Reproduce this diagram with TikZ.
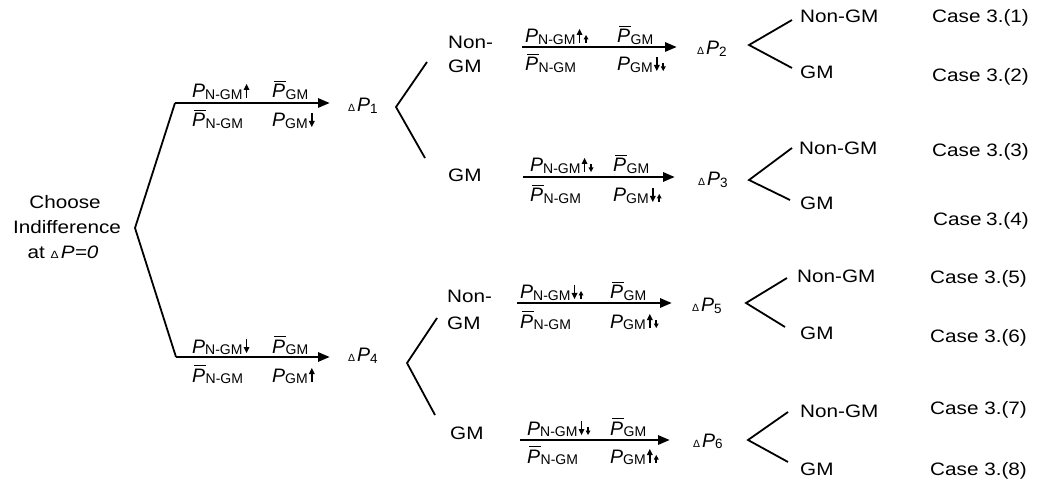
\documentclass[tikz,border=0pt]{standalone}
\usepackage{fontspec}
\setmainfont{Liberation Sans}
\usetikzlibrary{arrows.meta}
\newcommand\bigP{{\fontsize{19.5}{19.5}\selectfont\itshape P}}
\newcommand\subtx[1]{\raisebox{-1.5pt}{\fontsize{14}{14}\selectfont\upshape #1}}
\newcommand\Pn[1]{\bigP\subtx{#1}}
\newcommand\Pb[1]{\vbox{\offinterlineskip\hbox{\kern2pt\vrule height 1.3pt depth 0pt width 11.5pt}\kern2.3pt\hbox{\bigP}}\subtx{#1}}
% inline arrows: #1 total height, #2 head width, #3 head length
\newcommand\uparr[3]{\kern1pt\tikz[baseline=0pt,x=1pt,y=1pt]{\fill (-0.8,0) rectangle (0.8,#1-#3+0.5); \fill (-#2/2,#1-#3) -- (#2/2,#1-#3) -- (0,#1) -- cycle;}}
\newcommand\dnarr[3]{\kern1pt\tikz[baseline=0pt,x=1pt,y=1pt]{\fill (-0.8,#3-0.5) rectangle (0.8,#1); \fill (-#2/2,#3) -- (#2/2,#3) -- (0,0) -- cycle;}}
\newcommand\bgup{\uparr{14}{6}{6}}
\newcommand\bgdn{\dnarr{14}{6}{6}}
\newcommand\smup{\uparr{8}{5}{4.5}}
\newcommand\smdn{\dnarr{8}{5}{4.5}}
\newcommand\tri{{\fontsize{10.5}{10.5}\selectfont Δ}}
\newcommand\dP[1]{\tri\kern2pt\bigP\raisebox{-1.5pt}{\fontsize{13.5}{13.5}\selectfont #1}}
\tikzset{
  lbl/.style={inner sep=0pt, font=\fontsize{18}{20}\selectfont, xscale=1.15, anchor=base west},
  elab/.style={inner sep=0pt, anchor=base west},
  dpn/.style={inner sep=0pt, anchor=base west},
  conn/.style={line width=1.8pt, line join=miter},
  arr/.style={line width=2.8pt, -{Triangle[length=12pt,width=9pt]}},
}
\begin{document}
\begin{tikzpicture}[x=1pt,y=-1pt]
\useasboundingbox (0,0) rectangle (1037,489);
% left text
\node[lbl, anchor=base] (t1) at (65,209) {Choose};
\node[lbl, anchor=base] (t2) at (67,234) {Indifference};
\node[lbl, anchor=base] (t3) at (63,259) {at \tri\kern2pt{\itshape P=0}};
% level 1
\coordinate (v0) at (135,228);
\coordinate (a1s) at (175,103);
\coordinate (a1e) at (330,103);
\coordinate (a4s) at (176,357);
\coordinate (a4e) at (330,357);
\draw[conn] (a1s) -- (v0) -- (a4s);
\draw[arr] (a1s) -- (a1e);
\draw[arr] (a4s) -- (a4e);
\node[elab] (l1tl) at (192,98) {\Pn{N-GM}\bgup};
\node[elab] (l1tr) at (272,98) {\Pb{GM}};
\node[elab] (l1bl) at (192,127) {\Pb{N-GM}};
\node[elab] (l1br) at (272,127) {\Pn{GM}\bgdn};
\node[elab] (l4tl) at (192,353) {\Pn{N-GM}\bgdn};
\node[elab] (l4tr) at (272,353) {\Pb{GM}};
\node[elab] (l4bl) at (192,382) {\Pb{N-GM}};
\node[elab] (l4br) at (272,382) {\Pn{GM}\bgup};
\node[dpn] (d1) at (348,112) {\dP{1}};
\node[dpn] (d4) at (348,362) {\dP{4}};
% level 2 brackets
\coordinate (v1) at (396,107);
\coordinate (v1a) at (427,62);
\coordinate (v1b) at (425,158);
\draw[conn] (v1a) -- (v1) -- (v1b);
\coordinate (v4) at (407,363);
\coordinate (v4a) at (437,318);
\coordinate (v4b) at (435,415);
\draw[conn] (v4a) -- (v4) -- (v4b);
\node[lbl] (n1a) at (448,49) {Non-};
\node[lbl] (n1b) at (448,73) {GM};
\node[lbl] (g1) at (448,182) {GM};
\node[lbl] (n4a) at (447,302) {Non-};
\node[lbl] (n4b) at (447,330) {GM};
\node[lbl] (g4) at (450,439) {GM};
% level 2 arrows
\coordinate (a2s) at (522,47);  \coordinate (a2e) at (677,47);
\coordinate (a3s) at (523,177); \coordinate (a3e) at (675,177);
\coordinate (a5s) at (517,303); \coordinate (a5e) at (672,303);
\coordinate (a6s) at (520,440); \coordinate (a6e) at (670,440);
\draw[arr] (a2s) -- (a2e);
\draw[arr] (a3s) -- (a3e);
\draw[arr] (a5s) -- (a5e);
\draw[arr] (a6s) -- (a6e);
\node[elab] (l2tl) at (525,43) {\Pn{N-GM}\bgup\smup};
\node[elab] (l2tr) at (617,43) {\Pb{GM}};
\node[elab] (l2bl) at (525,71) {\Pb{N-GM}};
\node[elab] (l2br) at (617,71) {\Pn{GM}\bgdn\smdn};
\node[elab] (l3tl) at (530,172) {\Pn{N-GM}\bgup\smdn};
\node[elab] (l3tr) at (613,172) {\Pb{GM}};
\node[elab] (l3bl) at (530,202) {\Pb{N-GM}};
\node[elab] (l3br) at (613,202) {\Pn{GM}\bgdn\smup};
\node[elab] (l5tl) at (520,299) {\Pn{N-GM}\bgdn\smup};
\node[elab] (l5tr) at (610,299) {\Pb{GM}};
\node[elab] (l5bl) at (520,328) {\Pb{N-GM}};
\node[elab] (l5br) at (610,328) {\Pn{GM}\bgup\smdn};
\node[elab] (l6tl) at (527,435) {\Pn{N-GM}\bgdn\smdn};
\node[elab] (l6tr) at (610,435) {\Pb{GM}};
\node[elab] (l6bl) at (527,463) {\Pb{N-GM}};
\node[elab] (l6br) at (610,463) {\Pn{GM}\bgup\smup};
\node[dpn] (d2) at (697,55) {\dP{2}};
\node[dpn] (d3) at (698,186) {\dP{3}};
\node[dpn] (d5) at (692,312) {\dP{5}};
\node[dpn] (d6) at (693,447) {\dP{6}};
% level 3 brackets
\coordinate (w2) at (749,45);  \coordinate (w2a) at (792,20);  \coordinate (w2b) at (792,68);
\coordinate (w3) at (749,180); \coordinate (w3a) at (792,148); \coordinate (w3b) at (790,200);
\coordinate (w5) at (746,303); \coordinate (w5a) at (787,278); \coordinate (w5b) at (785,327);
\coordinate (w6) at (748,440); \coordinate (w6a) at (788,412); \coordinate (w6b) at (788,462);
\draw[conn] (w2a) -- (w2) -- (w2b);
\draw[conn] (w3a) -- (w3) -- (w3b);
\draw[conn] (w5a) -- (w5) -- (w5b);
\draw[conn] (w6a) -- (w6) -- (w6b);
\node[lbl] (o1) at (800,23) {Non-GM};
\node[lbl] (o2) at (800,79) {GM};
\node[lbl] (o3) at (799,155) {Non-GM};
\node[lbl] (o4) at (800,210) {GM};
\node[lbl] (o5) at (797,283) {Non-GM};
\node[lbl] (o6) at (800,339) {GM};
\node[lbl] (o7) at (800,417) {Non-GM};
\node[lbl] (o8) at (800,475) {GM};
\node[lbl] (c1) at (932,23) {Case 3.(1)};
\node[lbl] (c2) at (932,82) {Case 3.(2)};
\node[lbl] (c3) at (932,157) {Case 3.(3)};
\node[lbl] (c4) at (933,226) {Case\kern4pt 3.(4)};
\node[lbl] (c5) at (930,284) {Case\kern5pt 3.(5)};
\node[lbl] (c6) at (930,342) {Case\kern5pt 3.(6)};
\node[lbl] (c7) at (930,414) {Case\kern5pt 3.(7)};
\node[lbl] (c8) at (930,475) {Case\kern5pt 3.(8)};
\end{tikzpicture}
\end{document}
